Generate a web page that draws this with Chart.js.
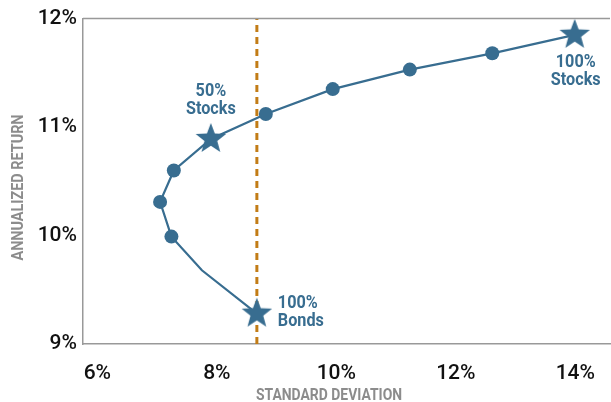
<!DOCTYPE html>
<html>
<head>
<meta charset="utf-8">
<script src="https://cdn.jsdelivr.net/npm/chart.js@4/dist/chart.umd.min.js"></script>
<style>
  html, body { margin: 0; padding: 0; background: #fff; }
  #wrap { width: 611px; height: 402px; }
</style>
</head>
<body>
<div id="wrap"><canvas id="frontier"></canvas></div>
<script>
// portfolio mixes, 0% to 100% stocks in 10% steps
const stockShare = [0, 10, 20, 30, 40, 50, 60, 70, 80, 90, 100];
const stdDev = [8.67, 7.75, 7.24, 7.05, 7.28, 7.90, 8.82, 9.94, 11.23, 12.61, 13.99];
const annReturn = [9.28, 9.68, 9.99, 10.31, 10.60, 10.89, 11.12, 11.35, 11.53, 11.68, 11.85];
const markerKind = ['star', 'none', 'dot', 'dot', 'dot', 'star', 'dot', 'dot', 'dot', 'dot', 'star'];
const calloutText = { 0: ['100%', 'Bonds'], 5: ['50%', 'Stocks'], 10: ['100%', 'Stocks'] };
const xTicks = [6, 8, 10, 12, 14];
const yTicks = [9, 10, 11, 12];
const xTitle = 'STANDARD DEVIATION';
const yTitle = 'ANNUALIZED RETURN';

const BLUE = '#386d90';
const ORANGE = '#c27c16';
const GREY = '#999999';
const TITLE_GREY = '#8c8c8c';
const LABEL_FONT = 'Roboto, sans-serif';

// filled five-point star used as a point image
function makeStar(R, color) {
  const c = document.createElement('canvas');
  const s = Math.ceil(R * 2 + 2);
  c.width = s; c.height = s;
  const g = c.getContext('2d');
  const cx = s / 2, cy = s / 2, r = R * 0.42;
  g.beginPath();
  for (let i = 0; i < 10; i++) {
    const rad = i % 2 ? r : R;
    const a = -Math.PI / 2 + i * Math.PI / 5;
    g.lineTo(cx + rad * Math.cos(a), cy + rad * Math.sin(a));
  }
  g.closePath();
  g.fillStyle = color;
  g.fill();
  return c;
}
const star = makeStar(16, BLUE);

const frontierPts = stdDev.map((x, i) => ({ x, y: annReturn[i] }));
// vertical reference at the all-bond standard deviation
const bondLine = [{ x: stdDev[0], y: yTicks[0] }, { x: stdDev[0], y: yTicks[yTicks.length - 1] }];

// narrow text: squeeze the glyphs horizontally around (x, y)
function narrowText(ctx, text, x, y, squeeze) {
  ctx.save();
  ctx.translate(x, y);
  ctx.scale(squeeze, 1);
  ctx.fillText(text, 0, 0);
  ctx.restore();
}

const callouts = {
  id: 'callouts',
  afterDatasetsDraw(chart) {
    const { ctx, chartArea, scales } = chart;
    // top frame line
    ctx.save();
    ctx.strokeStyle = GREY;
    ctx.lineWidth = 1.5;
    ctx.beginPath();
    ctx.moveTo(chartArea.left, chartArea.top);
    ctx.lineTo(chartArea.right, chartArea.top);
    ctx.stroke();

    ctx.fillStyle = BLUE;
    ctx.font = 'bold 18px ' + LABEL_FONT;
    ctx.textBaseline = 'middle';
    Object.keys(calloutText).forEach(k => {
      const i = +k;
      const px = scales.x.getPixelForValue(stdDev[i]);
      const py = scales.y.getPixelForValue(annReturn[i]);
      const lines = calloutText[k];
      let tx, ty, align;
      if (i === 0) { tx = px + 21; ty = py - 10; align = 'left'; }
      else if (i === 5) { tx = px; ty = py - 47; align = 'center'; }
      else { tx = px + 1; ty = py + 28; align = 'center'; }
      ctx.textAlign = align;
      narrowText(ctx, lines[0], tx, ty, 0.9);
      narrowText(ctx, lines[1], tx, ty + 18, 0.9);
    });

    // axis titles
    ctx.fillStyle = TITLE_GREY;
    ctx.font = 'bold 16px ' + LABEL_FONT;
    ctx.textAlign = 'center';
    narrowText(ctx, xTitle, 329, 396, 0.87);
    ctx.save();
    ctx.translate(18.5, 187.5);
    ctx.rotate(-Math.PI / 2);
    narrowText(ctx, yTitle, 0, 0, 0.9);
    ctx.restore();
    ctx.restore();
  }
};

new Chart(document.getElementById('frontier'), {
  type: 'scatter',
  data: {
    datasets: [
      // first dataset is painted last, so the frontier sits over the dashed line
      {
        label: 'Stock/bond mix',
        data: frontierPts,
        showLine: true,
        borderColor: BLUE,
        borderWidth: 2.2,
        backgroundColor: BLUE,
        pointBorderWidth: 0,
        pointRadius: markerKind.map(m => m === 'none' ? 0 : 7),
        pointStyle: markerKind.map(m => m === 'star' ? star : 'circle')
      },
      {
        label: 'Bond volatility',
        data: bondLine,
        showLine: true,
        borderColor: ORANGE,
        borderWidth: 3,
        borderDash: [7, 5],
        pointRadius: 0
      }
    ]
  },
  options: {
    responsive: true,
    maintainAspectRatio: false,
    animation: false,
    layout: { autoPadding: false, padding: { top: 17, right: 1, left: 0, bottom: 0 } },
    plugins: { legend: { display: false }, tooltip: { enabled: false } },
    scales: {
      x: {
        type: 'linear',
        min: 5.76,
        max: 14.58,
        afterBuildTicks: s => { s.ticks = xTicks.map(v => ({ value: v })); },
        afterFit: s => { s.height = 58; s.paddingLeft = 0; s.paddingRight = 0; },
        grid: { display: true, drawOnChartArea: false, drawTicks: false },
        border: { display: true, color: GREY, width: 1.5 },
        ticks: {
          padding: 17,
          color: '#111',
          font: { family: 'Roboto, sans-serif', size: 21, weight: '500' },
          callback: v => v + '%'
        }
      },
      y: {
        type: 'linear',
        min: 9,
        max: 12,
        afterBuildTicks: s => { s.ticks = yTicks.map(v => ({ value: v })); },
        afterFit: s => { s.width = 83; },
        grid: { display: true, drawOnChartArea: false, drawTicks: false },
        border: { display: true, color: GREY, width: 1.5 },
        ticks: {
          padding: 6,
          color: '#111',
          font: { family: 'Roboto, sans-serif', size: 21, weight: '500' },
          callback: v => v + '%'
        }
      }
    }
  },
  plugins: [callouts]
});
</script>
</body>
</html>
